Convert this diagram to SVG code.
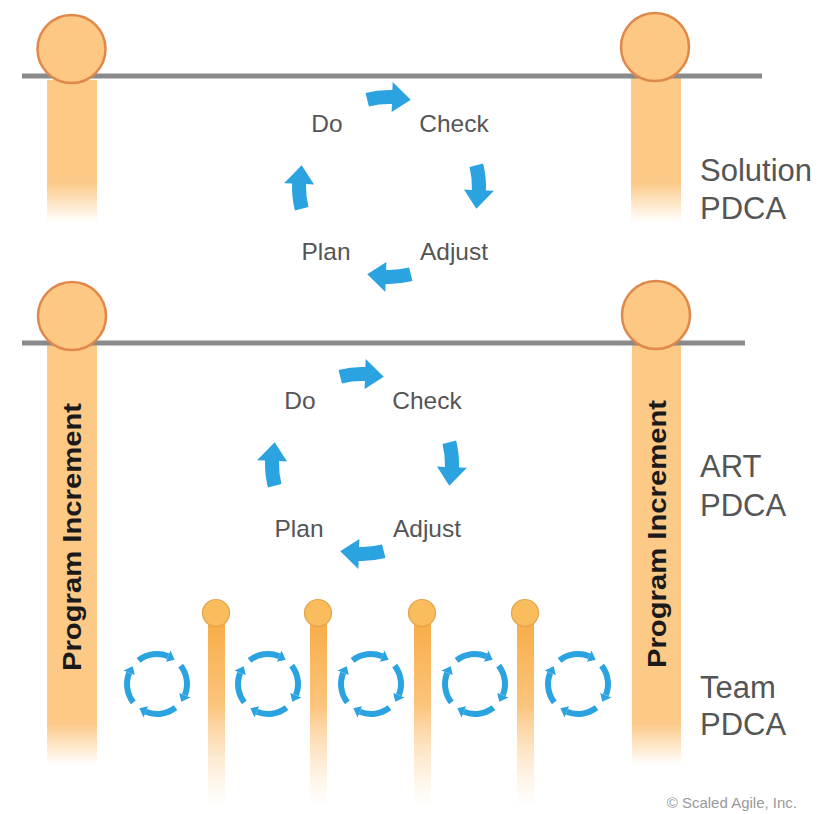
<svg xmlns="http://www.w3.org/2000/svg" width="823" height="814" viewBox="0 0 823 814">
  <style>
    .pillar-top { fill: url(#gTop); }
    .pillar-mid { fill: url(#gMid); }
    .pillar-small { fill: url(#gSmall); }
    .cap { fill: #fcc884; stroke: #e0884a; stroke-width: 2.5; }
    .cap-small { fill: #f9bd5e; stroke: #e2a34c; stroke-width: 1.2; }
    .rail { stroke: #8a8a8a; stroke-width: 5; }
    .lbl { font-family: "Liberation Sans", Arial, sans-serif; font-size: 24.5px; fill: #555; text-anchor: middle; }
    .lvl { font-family: "Liberation Sans", Arial, sans-serif; font-size: 31px; fill: #555; }
    .pi { font-family: "Liberation Sans", Arial, sans-serif; font-size: 25px; font-weight: bold; fill: #1a1a1a; text-anchor: middle; }
    .copy { font-family: "Liberation Sans", Arial, sans-serif; font-size: 15px; fill: #9a9a9a; text-anchor: end; }
    .big-arrow { fill: #2aa3e0; }
    .team-arc { fill: none; stroke: #2aa3e0; stroke-width: 6; }
    .team-head { fill: #2aa3e0; }
  </style>
  <defs>
    <linearGradient id="gTop" x1="0" y1="0" x2="0" y2="1">
      <stop offset="0" stop-color="#fcc986"/>
      <stop offset="0.72" stop-color="#fcc986"/>
      <stop offset="1" stop-color="#fcc986" stop-opacity="0"/>
    </linearGradient>
    <linearGradient id="gMid" x1="0" y1="0" x2="0" y2="1">
      <stop offset="0" stop-color="#fcc986"/>
      <stop offset="0.9" stop-color="#fcc986"/>
      <stop offset="1" stop-color="#fcc986" stop-opacity="0"/>
    </linearGradient>
    <linearGradient id="gSmall" x1="0" y1="0" x2="0" y2="1">
      <stop offset="0" stop-color="#f8ad47"/>
      <stop offset="0.45" stop-color="#fbc47c"/>
      <stop offset="1" stop-color="#fde2bd" stop-opacity="0"/>
    </linearGradient>
    <path id="bigArrow" class="big-arrow" d="M -23.47,-94.12 A 97 97 0 0 1 3.39,-96.94 L 3.66,-104.94 L 21.77,-87.33 L 2.62,-74.96 L 2.90,-82.95 A 83 83 0 0 0 -20.08,-80.53 Z"/>
    <g id="teamArrow">
      <path class="team-arc" d="M -18.47,-23.64 A 30 30 0 0 1 11.24,-27.82"/>
      <path class="team-head" d="M 8.99,-22.25 L 13.49,-33.38 L 17.63,-24.27 Z"/>
    </g>
    <g id="teamCycle">
      <use href="#teamArrow"/>
      <use href="#teamArrow" transform="rotate(90)"/>
      <use href="#teamArrow" transform="rotate(180)"/>
      <use href="#teamArrow" transform="rotate(270)"/>
    </g>
  </defs>

  <!-- Pillars -->
  <g id="solution-pi-left">
    <rect class="pillar-top" x="47" y="80" width="50" height="142"/>
  </g>
  <g id="solution-pi-right">
    <rect class="pillar-top" x="631" y="78" width="50" height="144"/>
  </g>
  <g id="art-pi-left">
    <rect class="pillar-mid" x="47" y="345" width="50" height="420"/>
    <text class="pi" transform="translate(72,537) rotate(-90)" y="9" textLength="268" lengthAdjust="spacingAndGlyphs">Program Increment</text>
  </g>
  <g id="art-pi-right">
    <rect class="pillar-mid" x="632" y="345" width="49" height="420"/>
    <text class="pi" transform="translate(657,534) rotate(-90)" y="9" textLength="268" lengthAdjust="spacingAndGlyphs">Program Increment</text>
  </g>
  <g id="iterations">
    <rect class="pillar-small" x="208" y="622" width="17" height="185"/>
    <rect class="pillar-small" x="310" y="622" width="17" height="185"/>
    <rect class="pillar-small" x="414" y="622" width="17" height="185"/>
    <rect class="pillar-small" x="517" y="622" width="17" height="185"/>
    <circle class="cap-small" cx="216" cy="613" r="13.5"/>
    <circle class="cap-small" cx="318" cy="613" r="13.5"/>
    <circle class="cap-small" cx="422" cy="613" r="13.5"/>
    <circle class="cap-small" cx="525" cy="613" r="13.5"/>
  </g>

  <!-- Rails -->
  <g id="rails">
    <line class="rail" x1="22" y1="76" x2="762" y2="76"/>
    <line class="rail" x1="22" y1="343" x2="745" y2="343"/>
  </g>

  <!-- Caps -->
  <g id="caps">
    <circle class="cap" cx="71.5" cy="49" r="34"/>
    <circle class="cap" cx="655" cy="47" r="34"/>
    <circle class="cap" cx="72" cy="316" r="34"/>
    <circle class="cap" cx="656" cy="315" r="34"/>
  </g>

  <!-- Solution PDCA labels -->
  <g id="solution-do"><text class="lbl" x="327" y="132">Do</text></g>
  <g id="solution-check"><text class="lbl" x="454" y="132">Check</text></g>
  <g id="solution-adjust"><text class="lbl" x="454" y="260">Adjust</text></g>
  <g id="solution-plan"><text class="lbl" x="326" y="260">Plan</text></g>

  <!-- ART PDCA labels -->
  <g id="art-do"><text class="lbl" x="300" y="409">Do</text></g>
  <g id="art-check"><text class="lbl" x="427" y="409">Check</text></g>
  <g id="art-adjust"><text class="lbl" x="427" y="537">Adjust</text></g>
  <g id="art-plan"><text class="lbl" x="299" y="537">Plan</text></g>

  <!-- Team PDCA cycles -->
  <g id="team-1"><use href="#teamCycle" transform="translate(157,684)"/></g>
  <g id="team-2"><use href="#teamCycle" transform="translate(268,684)"/></g>
  <g id="team-3"><use href="#teamCycle" transform="translate(371,684)"/></g>
  <g id="team-4"><use href="#teamCycle" transform="translate(475,684)"/></g>
  <g id="team-5"><use href="#teamCycle" transform="translate(578,684)"/></g>

  <!-- Level labels -->
  <g id="level-solution"><text class="lvl" x="700" y="181">Solution</text><text class="lvl" x="700" y="219">PDCA</text></g>
  <g id="level-art"><text class="lvl" x="700" y="477">ART</text><text class="lvl" x="700" y="516">PDCA</text></g>
  <g id="level-team"><text class="lvl" x="700" y="698">Team</text><text class="lvl" x="700" y="735">PDCA</text></g>

  <!-- Connectors: cycle arrows -->
  <g id="connectors">
    <use href="#bigArrow" transform="translate(389,187)"/>
    <use href="#bigArrow" transform="translate(389,187) rotate(90)"/>
    <use href="#bigArrow" transform="translate(389,187) rotate(180)"/>
    <use href="#bigArrow" transform="translate(389,187) rotate(270)"/>
    <use href="#bigArrow" transform="translate(362,464)"/>
    <use href="#bigArrow" transform="translate(362,464) rotate(90)"/>
    <use href="#bigArrow" transform="translate(362,464) rotate(180)"/>
    <use href="#bigArrow" transform="translate(362,464) rotate(270)"/>
  </g>

  <text class="copy" x="797" y="808">© Scaled Agile, Inc.</text>
</svg>
